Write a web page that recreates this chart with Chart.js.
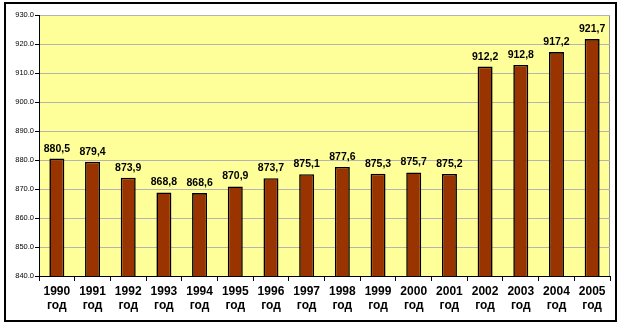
<!DOCTYPE html>
<html>
<head>
<meta charset="utf-8">
<script src="https://cdn.jsdelivr.net/npm/chart.js@4/dist/chart.umd.min.js"></script>
<style>
html,body{margin:0;padding:0;background:#fff;}
#wrap{position:relative;width:625px;height:328px;}
</style>
</head>
<body>
<div id="wrap"><canvas id="c" width="625" height="328"></canvas></div>
<script>
const years = ['1990','1991','1992','1993','1994','1995','1996','1997','1998','1999','2000','2001','2002','2003','2004','2005'];
const yearSuffix = 'год';
const values = [880.5, 879.4, 873.9, 868.8, 868.6, 870.9, 873.7, 875.1, 877.6, 875.3, 875.7, 875.2, 912.2, 912.8, 917.2, 921.7];
const yMin = 840, yMax = 930, yStep = 10;

const labels = years.map(y => [y, yearSuffix]);

const frame = {
  id: 'frame',
  beforeDraw(chart) {
    const ctx = chart.ctx, a = chart.chartArea;
    ctx.save();
    ctx.fillStyle = '#ffffff';
    ctx.fillRect(0, 0, chart.width, chart.height);
    ctx.strokeStyle = '#000000';
    ctx.lineWidth = 2;
    ctx.strokeRect(5, 3, 611, 318);
    ctx.fillStyle = '#FFFF99';
    ctx.fillRect(a.left, a.top, a.right - a.left, a.bottom - a.top);
    ctx.strokeStyle = '#909090';
    ctx.lineWidth = 1;
    ctx.beginPath();
    ctx.moveTo(a.right - 0.5, a.top);
    ctx.lineTo(a.right - 0.5, a.bottom);
    ctx.stroke();
    ctx.restore();
  },
  afterDatasetsDraw(chart) {
    const ctx = chart.ctx;
    const meta = chart.getDatasetMeta(0);
    ctx.save();
    ctx.fillStyle = '#000000';
    ctx.font = 'bold 10.5px Arial, "Liberation Sans", sans-serif';
    ctx.textAlign = 'center';
    ctx.textBaseline = 'alphabetic';
    meta.data.forEach((bar, i) => {
      const v = chart.data.datasets[0].data[i];
      ctx.fillText(v.toFixed(1).replace('.', ','), bar.x, bar.y - 7);
    });
    ctx.restore();
  }
};

new Chart(document.getElementById('c'), {
  type: 'bar',
  data: {
    labels: labels,
    datasets: [{
      data: values,
      backgroundColor: '#993300',
      borderColor: '#000000',
      borderWidth: 1.6,
      borderSkipped: 'bottom',
      categoryPercentage: 1,
      barPercentage: 0.42
    }]
  },
  options: {
    responsive: false,
    animation: false,
    devicePixelRatio: 1,
    layout: { padding: { left: 0, top: 15, right: 15, bottom: 0 } },
    plugins: { legend: { display: false }, tooltip: { enabled: false } },
    scales: {
      x: {
        offset: true,
        grid: { display: true, drawOnChartArea: false, drawTicks: true, tickLength: 5, color: '#000000', offset: true },
        border: { display: true, color: '#000000', width: 1 },
        ticks: {
          autoSkip: false, maxRotation: 0, minRotation: 0, padding: 3,
          color: '#000000',
          font: { family: 'Arial, "Liberation Sans", sans-serif', size: 12, weight: 'bold', lineHeight: 1.2 }
        },
        afterFit(scale) { scale.height = 328 - 276; }
      },
      y: {
        min: yMin, max: yMax,
        grid: { color: '#B4B4B4', lineWidth: 1, drawTicks: true, tickLength: 4, tickColor: '#000000' },
        border: { display: true, color: '#000000', width: 1 },
        ticks: {
          stepSize: yStep, padding: 1, color: '#000000',
          font: { family: 'Arial, "Liberation Sans", sans-serif', size: 7.5 },
          callback: v => Number(v).toFixed(1)
        },
        afterFit(scale) { scale.width = 39; }
      }
    }
  },
  plugins: [frame]
});
</script>
</body>
</html>
